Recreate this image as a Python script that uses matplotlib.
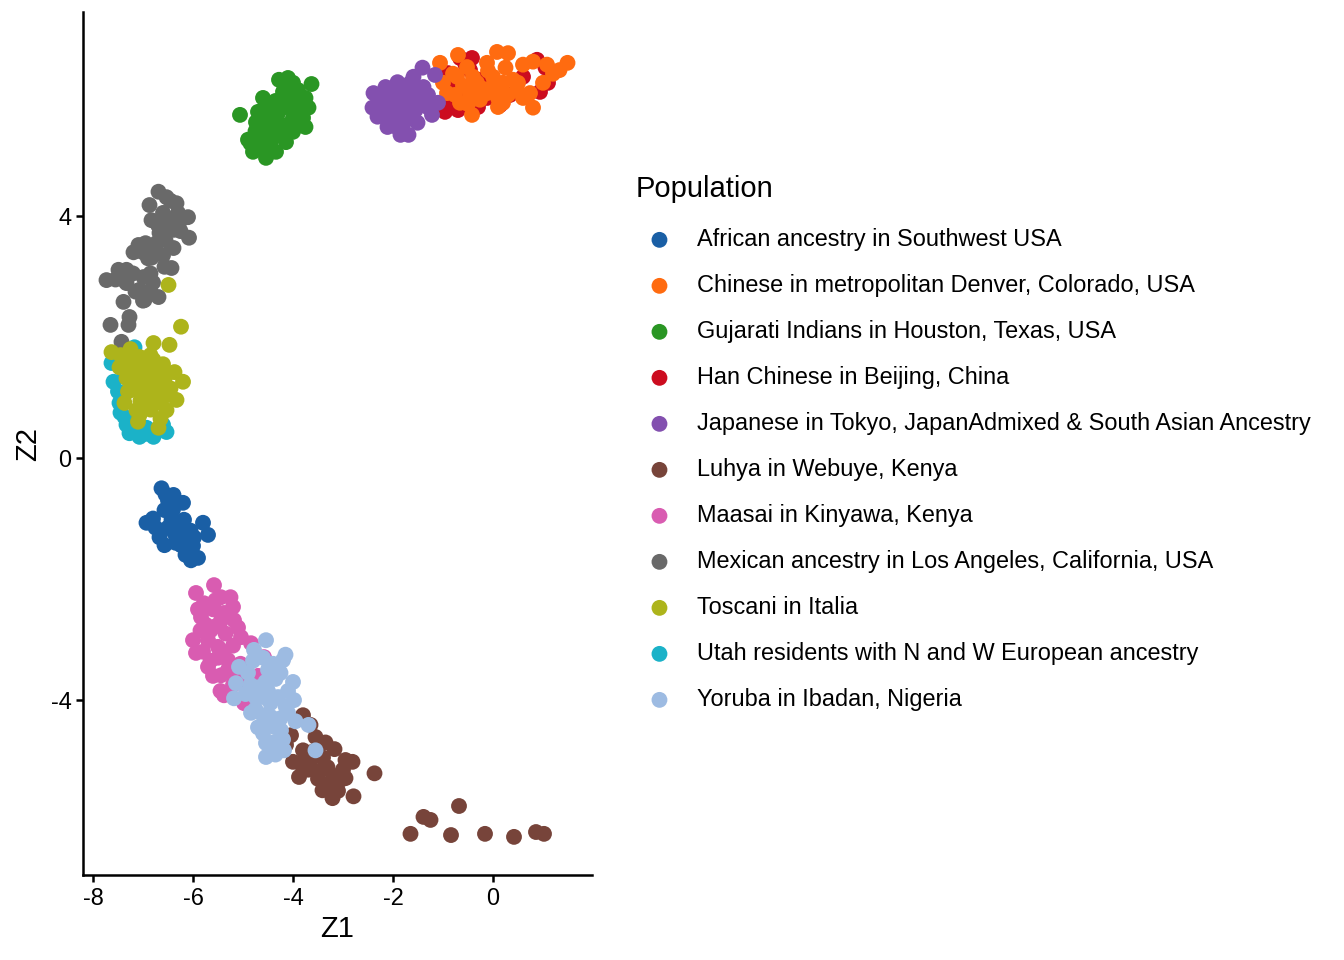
import matplotlib
matplotlib.use("Agg")
import matplotlib.pyplot as plt

plt.rcParams['font.family'] = ['Liberation Sans', 'DejaVu Sans']

populations = [
    "African ancestry in Southwest USA",
    "Chinese in metropolitan Denver, Colorado, USA",
    "Gujarati Indians in Houston, Texas, USA",
    "Han Chinese in Beijing, China",
    "Japanese in Tokyo, JapanAdmixed & South Asian Ancestry",
    "Luhya in Webuye, Kenya",
    "Maasai in Kinyawa, Kenya",
    "Mexican ancestry in Los Angeles, California, USA",
    "Toscani in Italia",
    "Utah residents with N and W European ancestry",
    "Yoruba in Ibadan, Nigeria",
]
colors = ["#1A5FA5", "#FF6B10", "#2A9624", "#CC0C1F", "#8350AF", "#77443A",
          "#D95CB1", "#696969", "#ADB41B", "#1BB2C8", "#9DBBE2"]

asw_x = [-6.63, -6.39, -6.20, -6.93, -6.67, -6.57, -6.24, -6.04, -5.90, -5.80, -5.70, -5.98, -6.43, -6.18, -6.57, -6.37, -6.10,
         -6.40, -6.30, -6.50, -6.20, -6.05, -6.35, -6.50, -6.75, -6.00, -6.55, -6.15, -6.80]
asw_y = [-0.50, -0.61, -0.74, -1.07, -1.31, -1.44, -1.44, -1.69, -1.65, -1.07, -1.27, -1.31, -1.02, -1.02, -0.86, -1.24, -1.52,
         -0.85, -1.10, -1.15, -1.30, -1.20, -1.40, -0.70, -1.15, -1.45, -0.60, -1.60, -1.00]

cdx_x = [-1.06, -0.70, 0.08, 0.30, 0.80, 1.08, 1.49, 1.33, 1.00, 0.74, 0.60, 0.80, 0.20, 0.10, -0.42, -0.66, -0.92, -1.00, -0.72, -0.52, -0.12, 0.00, 0.40, -0.32, -0.12, 0.48, 0.14, -0.46, -0.76, -0.26,
         -0.60, -0.40, -0.20, 0.00, 0.20, 0.30, -0.50, -0.30, 0.10, 0.50, -0.80, 0.25, -0.10, 0.60, 1.20]
cdx_y = [6.53, 6.66, 6.71, 6.69, 6.55, 6.50, 6.53, 6.41, 6.20, 6.03, 5.95, 5.79, 5.87, 5.80, 5.67, 5.87, 6.03, 6.20, 6.30, 6.46, 6.53, 6.30, 6.25, 6.20, 6.03, 6.08, 6.08, 6.03, 6.00, 5.92,
         6.15, 6.30, 6.10, 6.15, 6.20, 6.00, 5.85, 5.95, 5.95, 6.20, 6.35, 6.45, 6.40, 6.50, 6.35]

gih_x = [-5.06, -3.63, -4.10, -4.28, -4.60, -3.75, -3.69, -3.75, -4.00, -4.14, -4.34, -4.54, -4.80, -4.90, -4.74, -4.70, -4.48, -4.20, -4.00, -4.34, -4.54, -4.00, -3.80, -4.40, -4.68, -4.20, -3.90, -4.14, -3.94, -4.60,
         -4.45, -4.25, -4.05, -4.30, -4.10, -3.90, -4.45, -4.65, -4.60, -4.20, -3.85, -4.35, -4.00, -4.50, -4.75, -4.55, -4.15, -3.80, -4.85]
gih_y = [5.67, 6.18, 6.28, 6.25, 5.95, 5.95, 5.79, 5.47, 5.39, 5.22, 5.06, 4.96, 5.06, 5.26, 5.55, 5.72, 5.79, 5.79, 5.95, 5.55, 5.39, 5.62, 5.62, 5.29, 5.22, 6.05, 6.08, 5.50, 5.75, 5.50,
         5.45, 5.35, 5.45, 5.70, 5.85, 5.85, 5.15, 5.35, 5.10, 5.95, 5.50, 5.90, 6.20, 5.60, 5.40, 5.80, 6.15, 5.75, 5.20]

chb_x = [-0.66, -0.42, -0.90, -0.96, -0.72, 0.14, 0.88, 1.10, 0.94, -0.12, -0.46, -0.76, -0.26, 0.34,
         -0.60, -0.85, 0.60, 1.05, -0.30, -0.55, -0.85, -0.70]
chb_y = [6.61, 6.61, 6.36, 5.72, 5.87, 5.83, 6.58, 6.20, 6.05, 5.95, 6.41, 6.17, 6.25, 6.00,
         6.00, 5.95, 6.30, 6.45, 5.80, 6.50, 5.80, 5.75]

jpt_x = [-2.39, -2.41, -2.31, -2.11, -1.85, -1.69, -1.51, -1.22, -1.10, -1.16, -1.41, -1.59, -1.91, -2.15, -1.85, -1.59, -1.39, -1.31, -1.71, -2.05, -1.79, -2.25, -1.95, -1.55,
         -2.00, -1.80, -1.70, -1.95, -2.20, -1.60, -1.45, -1.30, -2.10, -1.90, -1.65, -1.50]
jpt_y = [6.03, 5.79, 5.64, 5.47, 5.34, 5.34, 5.54, 5.67, 5.87, 6.33, 6.45, 6.30, 6.21, 6.13, 5.92, 5.97, 6.13, 5.80, 5.70, 5.80, 5.54, 5.92, 5.67, 5.75,
         6.00, 6.10, 5.85, 5.85, 5.70, 5.60, 5.90, 6.00, 5.55, 5.45, 6.20, 6.05]

lwk_x = [-3.80, -3.55, -3.17, -2.81, -2.95, -2.79, -3.21, -3.41, -3.88, -4.00, -3.31, -3.05, -3.25, -3.65, -3.80, -4.14, -3.45, -4.04, -2.95, -3.65,
         -3.60, -3.40, -3.20, -3.50, -3.00, -3.35, -3.70, -3.10, -3.85,
         -1.65, -1.39, -1.25, -0.68, -0.84, -0.16, 0.42, 0.86, 1.02, -2.37]
lwk_y = [-4.25, -4.61, -4.81, -5.02, -5.29, -5.59, -5.62, -5.49, -5.27, -5.02, -5.11, -5.32, -5.37, -4.99, -4.83, -4.74, -5.16, -4.58, -4.99, -4.41,
         -4.85, -4.95, -5.25, -5.30, -5.15, -4.70, -5.15, -5.50, -5.05,
         -6.21, -5.93, -5.98, -5.75, -6.23, -6.21, -6.26, -6.18, -6.21, -5.21]

mkk_x = [-5.94, -5.58, -5.44, -5.20, -5.18, -5.04, -4.84, -4.58, -6.00, -5.94, -5.70, -5.44, -5.18, -5.38, -4.98, -5.84, -5.58, -5.50, -5.30, -5.70, -5.38, -5.78,
         -5.60, -5.45, -5.65, -5.35, -5.50, -5.20, -5.80, -5.30, -5.60, -5.05, -5.85, -5.25, -5.00, -5.45, -4.70,
         -5.55, -5.75, -5.40, -5.10, -5.65, -5.90, -5.20]
mkk_y = [-2.23, -2.10, -2.30, -2.46, -2.68, -2.96, -3.06, -3.29, -3.01, -3.22, -3.45, -3.59, -3.62, -3.92, -4.05, -2.63, -2.79, -3.12, -3.34, -3.01, -2.56, -2.40,
         -2.50, -2.70, -2.85, -2.90, -3.30, -3.10, -3.20, -3.50, -3.60, -3.40, -2.85, -2.30, -3.70, -3.85, -3.60,
         -2.35, -2.75, -3.20, -2.80, -3.35, -2.50, -3.75]

mxl_x = [-6.69, -6.53, -6.87, -6.33, -6.10, -6.08, -6.39, -6.83, -6.53, -7.09, -7.19, -6.73, -6.83, -6.43, -6.57, -6.99, -7.33, -7.49, -7.73, -7.33, -7.07, -6.97, -7.39, -6.69, -7.27, -7.29, -7.65, -7.43, -6.79, -6.39, -6.27, -6.67,
         -6.60, -6.45, -6.70, -6.30, -6.55, -6.90, -7.00, -6.60, -7.20, -6.85, -7.15, -6.80, -7.55,
         -6.45, -6.25, -6.95, -7.40, -7.00, -6.85]
mxl_y = [4.40, 4.31, 4.18, 4.21, 3.98, 3.64, 3.47, 3.93, 3.97, 3.52, 3.40, 3.55, 3.31, 3.14, 3.16, 2.99, 3.11, 3.11, 2.94, 2.89, 2.78, 2.61, 2.58, 2.66, 2.33, 2.20, 2.20, 1.92, 3.39, 3.77, 3.90, 3.72,
         4.05, 3.85, 3.85, 4.05, 3.60, 3.30, 3.40, 3.35, 3.05, 3.05, 2.75, 2.90, 2.95,
         4.25, 3.75, 3.55, 2.95, 2.60, 2.75]

tsi_x = [-6.49, -6.24, -6.47, -6.79, -7.63, -7.47, -7.33, -6.37, -6.20, -6.33, -6.53, -6.69, -7.07, -7.37, -7.13, -6.87, -7.07, -6.79, -6.73, -6.97, -6.59, -7.27, -6.93, -7.13,
         -7.00, -6.80, -7.20, -6.90, -7.15, -6.75, -6.85, -6.60, -7.30, -6.95, -7.45, -6.55, -7.05, -6.65,
         -7.25, -6.85, -6.60, -6.45, -7.10, -6.75]
tsi_y = [2.86, 2.17, 1.87, 1.90, 1.75, 1.50, 1.32, 1.42, 1.26, 0.96, 0.79, 0.50, 0.71, 0.91, 1.12, 1.34, 1.67, 1.62, 0.91, 1.01, 1.17, 1.62, 1.37, 0.79,
         1.45, 1.45, 1.45, 1.20, 1.25, 1.30, 0.80, 1.00, 1.10, 1.55, 1.70, 1.35, 0.95, 0.65,
         1.80, 1.70, 1.55, 1.15, 0.60, 1.05]

ceu_x = [-7.63, -7.59, -7.37, -7.27, -7.07, -6.79, -6.53, -7.17, -7.47, -6.93, -7.33,
         -7.20, -6.95, -7.40, -7.50, -7.45, -6.60]
ceu_y = [1.57, 1.26, 0.68, 0.41, 0.35, 0.35, 0.43, 1.83, 0.91, 0.50, 0.55,
         0.50, 0.40, 1.45, 1.10, 0.75, 0.55]

yri_x = [-4.54, -4.78, -4.20, -5.08, -5.14, -5.18, -4.00, -3.98, -4.10, -3.69, -4.54, -4.54, -4.18, -3.55, -4.84, -4.70, -4.90, -4.50, -4.58, -4.30, -4.44, -4.24, -4.70,
         -4.60, -4.40, -4.35, -4.55, -4.75, -4.45, -4.15, -4.35, -4.60, -4.40, -4.20, -4.85, -4.95, -4.10, -4.60, -4.35, -3.95,
         -4.80, -4.25, -4.50, -4.25, -4.55, -4.75, -4.40, -4.15]
yri_y = [-3.01, -3.17, -3.34, -3.45, -3.72, -3.97, -3.70, -4.00, -4.21, -4.41, -4.71, -4.94, -4.83, -4.83, -4.21, -4.45, -3.55, -3.50, -3.95, -3.95, -4.28, -4.50, -3.79,
         -3.30, -3.40, -3.65, -3.70, -3.95, -4.05, -4.10, -4.45, -4.55, -4.70, -4.65, -3.75, -3.90, -3.85, -4.25, -4.90, -4.35,
         -3.35, -3.55, -3.85, -4.30, -4.40, -4.15, -4.85, -3.25]

xs = [asw_x, cdx_x, gih_x, chb_x, jpt_x, lwk_x, mkk_x, mxl_x, tsi_x, ceu_x, yri_x]
ys = [asw_y, cdx_y, gih_y, chb_y, jpt_y, lwk_y, mkk_y, mxl_y, tsi_y, ceu_y, yri_y]

x_ticks = [-8, -6, -4, -2, 0]
y_ticks = [-4, 0, 4]

fig = plt.figure(figsize=(13.44, 9.6), dpi=100)
ax = fig.add_axes([83/1344, 1 - 875/960, (592 - 83)/1344, (875 - 12)/960])

draw_order = [0, 3, 1, 4, 2, 7, 9, 8, 6, 5, 10]
handles = [None] * len(populations)
for i in draw_order:
    h = ax.scatter(xs[i], ys[i], s=130, color=colors[i], edgecolors='none',
                   label=populations[i], zorder=2 + draw_order.index(i))
    handles[i] = h

ax.set_xlim(-8.2, 1.98)
ax.set_ylim(-6.89, 7.37)
ax.set_xticks(x_ticks)
ax.set_yticks(y_ticks)
ax.set_xticklabels([str(t) for t in x_ticks])
ax.set_yticklabels([str(t) for t in y_ticks])
for s in ['top', 'right']:
    ax.spines[s].set_visible(False)
for s in ['left', 'bottom']:
    ax.spines[s].set_linewidth(1.8)
    ax.spines[s].set_color('black')
ax.tick_params(axis='both', labelsize=16.9, length=5.3, width=1.8, colors='black', pad=3)
ax.set_xlabel("Z1", fontsize=21, labelpad=4)
ax.set_ylabel("Z2", fontsize=21, labelpad=6)

leg = fig.legend(handles=handles, labels=populations, loc='upper left',
                 bbox_to_anchor=(636/1344, 1 - 175/960), frameon=False,
                 title="Population", title_fontsize=21, fontsize=16.9,
                 handlelength=2.0, handletextpad=0.62, labelspacing=0.98,
                 borderpad=0, borderaxespad=0, alignment='left',
                 markerscale=1.0)
leg._legend_box.sep = 18

fig.savefig("out.png", dpi=100)
